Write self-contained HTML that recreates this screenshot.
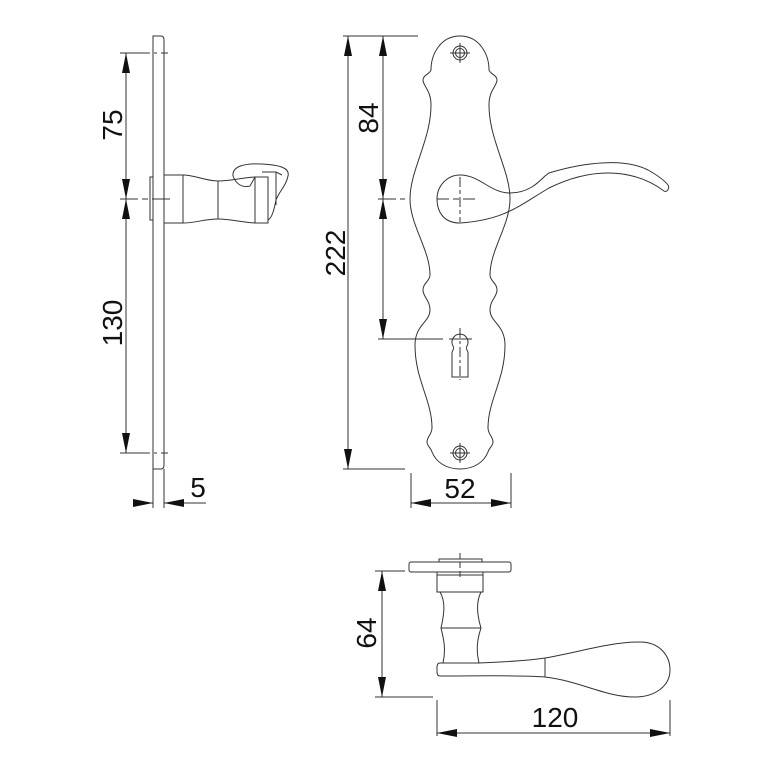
<!DOCTYPE html>
<html><head><meta charset="utf-8"><style>
html,body{margin:0;padding:0;background:#fff;width:772px;height:772px;overflow:hidden}
svg{display:block}
text{font-family:"Liberation Sans",Arial,sans-serif;font-size:28px;fill:#111}
</style></head><body>
<svg width="772" height="772" viewBox="0 0 772 772" xmlns="http://www.w3.org/2000/svg">
<defs>
<marker id="a" viewBox="0 0 20 8" refX="20" refY="4" markerWidth="20" markerHeight="8" markerUnits="userSpaceOnUse" orient="auto-start-reverse"><path d="M0,0 L20,4 L0,8 Z" fill="#111"/></marker>
</defs>
<g fill="none" stroke="#333" stroke-width="1">
<!-- SIDE VIEW -->
<path d="M153,36 L161,36 Q164,36 164,40 L164,465 Q164,469 161,469 L153,469 Z"/>
<rect x="150" y="177" width="3" height="43"/>
<path d="M164,175 L183,175 C195,175 205,181 218,181 C230,181 240,178 255,177 L268,177 L268,223 L255,223 C240,222 230,219 218,219 C205,219 195,223 183,223 L164,223"/>
<line x1="183" y1="175" x2="183" y2="223"/>
<line x1="218" y1="181" x2="218" y2="219"/>
<line x1="255" y1="177" x2="255" y2="223"/>
<path d="M233,176 C232,166 245,163 262,164 C280,165 290,168 288,176 C286,186 280,190 276,200 C274,210 272,218 268,220"/>
<path d="M233,176 C236,184 242,188 250,186 L255,177"/>
<path d="M262,172 L276,172 L282,175"/>
<path d="M276,172 L276,205"/>
<!-- dims side -->
<line x1="126" y1="53" x2="126" y2="199" marker-start="url(#a)" marker-end="url(#a)"/>
<line x1="126" y1="199" x2="126" y2="453" marker-start="url(#a)" marker-end="url(#a)"/>
<line x1="120" y1="53" x2="168" y2="53" stroke-dasharray="30,4,3,4"/>
<line x1="120" y1="453" x2="168" y2="453" stroke-dasharray="30,4,3,4"/>
<line x1="120" y1="199" x2="172" y2="199" stroke-dasharray="18,4,6,4"/>
<line x1="153" y1="469" x2="153" y2="508"/>
<line x1="164" y1="469" x2="164" y2="508"/>
<line x1="133" y1="503" x2="153" y2="503" marker-end="url(#a)"/>
<line x1="184" y1="503" x2="164" y2="503" marker-end="url(#a)"/>
<line x1="184" y1="503" x2="206" y2="503"/>
<!-- FRONT VIEW plate -->
<path id="half" d="M460,36 C440,36 431,55 431,70 C430,74 423,75 423,80 C423,86 431,90 431,105 C431,140 410,170 410,199 C410,225 430,250 430,275 C430,281 423,283 423,290 C423,297 430,300 430,310 C430,322 415,325 415,345 C415,380 432,400 432,428 C432,434 427,437 427,442 C427,446 431,448 432,452 C436,462 446,469 460,469"/>
<use href="#half" transform="translate(920,0) scale(-1,1)"/>
<circle cx="460" cy="53" r="7"/><circle cx="460" cy="53" r="4.5"/>
<circle cx="460" cy="453" r="7"/><circle cx="460" cy="453" r="4.5"/>
<line x1="450" y1="53" x2="470" y2="53"/><line x1="460" y1="43" x2="460" y2="63"/>
<line x1="450" y1="453" x2="470" y2="453"/><line x1="460" y1="443" x2="460" y2="463"/>
<path d="M453,346 A8,8 0 1 1 467,346 C465,349 468,350 468,353 L468,377 L452,377 L452,353 C452,350 455,349 453,346 Z"/>
<line x1="460" y1="328" x2="460" y2="380" stroke-dasharray="10,3,3,3"/>
<line x1="449" y1="339" x2="472" y2="339"/>
<!-- lever front -->
<path d="M460,175 C480,175 490,193 510,193 C528,193 538,183 545,176 L549,173 C585,162 625,158 648,170 C657,175 664,180 668,185 C670,188 667,193 664,191 C640,173 600,163 549,188 C520,205 505,220 460,223 C443,223 437,211 437,199 C437,186 447,175 460,175 Z"/>
<line x1="437" y1="199" x2="478" y2="199" stroke-dasharray="12,4,6,4"/>
<line x1="460" y1="177" x2="460" y2="222" stroke-dasharray="10,3,4,3"/>
<!-- dims front -->
<line x1="348" y1="36" x2="348" y2="469" marker-start="url(#a)" marker-end="url(#a)"/>
<line x1="343" y1="36" x2="418" y2="36"/>
<line x1="343" y1="469" x2="405" y2="469"/>
<line x1="383" y1="36" x2="383" y2="199" marker-start="url(#a)" marker-end="url(#a)"/>
<line x1="383" y1="199" x2="383" y2="339" marker-start="url(#a)" marker-end="url(#a)"/>
<line x1="378" y1="199" x2="405" y2="199" stroke-dasharray="18,4"/>
<line x1="378" y1="339" x2="443" y2="339"/>
<line x1="411" y1="473" x2="411" y2="508"/>
<line x1="511" y1="473" x2="511" y2="508"/>
<line x1="411" y1="503" x2="511" y2="503" marker-start="url(#a)" marker-end="url(#a)"/>
<!-- BOTTOM VIEW -->
<rect x="409" y="562" width="102" height="10" rx="2"/>
<rect x="439" y="559" width="43" height="3"/>
<rect x="437" y="572" width="46" height="20"/>
<line x1="437" y1="575" x2="483" y2="575"/>
<path d="M440,592 C446,602 444,615 441,628 C444,640 446,650 443,663"/>
<path d="M481,592 C476,602 477,615 481,628 C477,640 476,650 479,663"/>
<line x1="441" y1="628" x2="481" y2="628"/>
<path d="M440,663 L479,663 C505,662 525,661 545,658 C580,652 610,642 640,642 C660,642 670,656 670,670 C670,686 655,697 635,697 C605,697 580,681 545,677 C520,675 480,676 440,676 Q437,676 437,672 L437,667 Q437,663 440,663 Z"/>
<line x1="545" y1="658" x2="545" y2="677"/>
<line x1="460" y1="553" x2="460" y2="580" stroke-dasharray="6,3"/>
<line x1="382" y1="571" x2="382" y2="697" marker-start="url(#a)" marker-end="url(#a)"/>
<line x1="375" y1="571" x2="405" y2="571"/>
<line x1="375" y1="697" x2="433" y2="697"/>
<line x1="437" y1="700" x2="437" y2="736"/>
<line x1="670" y1="700" x2="670" y2="736"/>
<line x1="437" y1="733" x2="670" y2="733" marker-start="url(#a)" marker-end="url(#a)"/>
</g>
<text transform="translate(122,125) rotate(-90)" text-anchor="middle">75</text>
<text transform="translate(122,323) rotate(-90)" text-anchor="middle">130</text>
<text transform="translate(345,253) rotate(-90)" text-anchor="middle">222</text>
<text transform="translate(378,118) rotate(-90)" text-anchor="middle">84</text>
<text transform="translate(376,633) rotate(-90)" text-anchor="middle">64</text>
<text x="198" y="497" text-anchor="middle">5</text>
<text x="460" y="498" text-anchor="middle">52</text>
<text x="555" y="727" text-anchor="middle">120</text>
</svg>
</body></html>
